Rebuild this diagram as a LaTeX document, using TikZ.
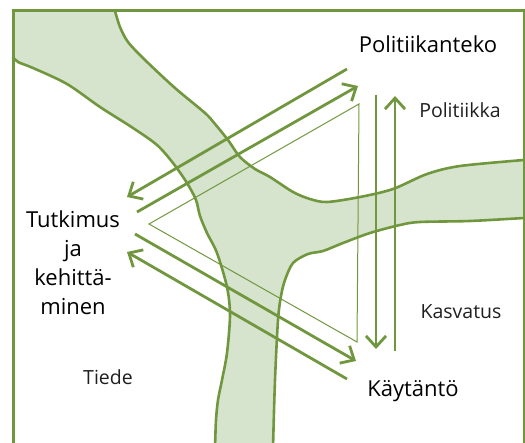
\documentclass[tikz,border=0pt]{standalone}
\usepackage{fontspec}
\setmainfont{Open Sans}
\usetikzlibrary{arrows.meta}
\definecolor{lgreen}{RGB}{112,151,62}
\definecolor{rfill}{RGB}{214,227,205}
\begin{document}
\begin{tikzpicture}[x=1pt,y=-1pt,
  bank/.style={draw=lgreen, line width=2.6pt, line cap=round, line join=round},
  frame/.style={draw=lgreen, line width=3pt},
  flow/.style={draw=lgreen, line width=2.8pt, -{Straight Barb[length=11pt,width=20pt]}},
  tri/.style={draw=lgreen, line width=1pt, line join=miter},
  bigtxt/.style={font=\fontsize{22}{29.3}\selectfont, text=black, inner sep=0pt},
  smalltxt/.style={font=\fontsize{19.5}{24}\selectfont, text=black!88, inner sep=0pt}
]
\useasboundingbox (0,0) rectangle (525,443);

% river fill
\fill[rfill] (13,11) -- (115,11)
  -- plot[smooth,tension=0.5] coordinates {(115,11) (120,27) (128,42) (145,60) (175,88) (205,113) (215,124) (228,140) (240,157) (255,169) (270,177) (293,192) (310,199) (327,202) (360,197) (393,189) (427,174) (460,166) (524,160)}
  -- (524,218)
  -- plot[smooth,tension=0.5] coordinates {(524,218) (470,221) (420,222) (400,225) (370,233) (343,243) (323,251) (308,254) (293,263) (285,280) (281,296) (278,320) (275,380) (273,448)}
  -- (215,448)
  -- plot[smooth,tension=0.5] coordinates {(215,448) (216,420) (218,400) (222,380) (227,353) (230,315) (227,287) (217,253) (207,233) (200,216) (196,200) (187,183) (173,163) (157,145) (133,128) (100,107) (67,84) (33,68) (18,62) (13,57)}
  -- cycle;

% river banks
\draw[bank] plot[smooth,tension=0.5] coordinates {(115,11) (120,27) (128,42) (145,60) (175,88) (205,113) (215,124) (228,140) (240,157) (255,169) (270,177) (293,192) (310,199) (327,202) (360,197) (393,189) (427,174) (460,166) (524,160)};
\draw[bank] plot[smooth,tension=0.5] coordinates {(524,218) (470,221) (420,222) (400,225) (370,233) (343,243) (323,251) (308,254) (293,263) (285,280) (281,296) (278,320) (275,380) (273,448)};
\draw[bank] plot[smooth,tension=0.5] coordinates {(215,448) (216,420) (218,400) (222,380) (227,353) (230,315) (227,287) (217,253) (207,233) (200,216) (196,200) (187,183) (173,163) (157,145) (133,128) (100,107) (67,84) (33,68) (18,62) (13,57)};

% frame
\draw[frame] (13,450) -- (13,11) -- (524,11) -- (524,450);

% texts
\node[bigtxt, anchor=base] (pt) at (428,53) {Politiikanteko};
\node[smalltxt, anchor=base] (pol) at (460,118) {Politiikka};
\node[smalltxt, anchor=base] (kas) at (461,319) {Kasvatus};
\node[bigtxt, anchor=base] (kay) at (413,397) {Käytäntö};
\node[smalltxt, anchor=base] (tie) at (108,385) {Tiede};
\node[bigtxt, anchor=base, align=center] (tk) at (73,315) {Tutkimus\\ja\\kehittä-\\minen};

% triangle
\coordinate (t1) at (359,104);
\coordinate (t2) at (149,224);
\coordinate (t3) at (357,342);
\draw[tri] (t1) -- (t2) -- (t3) -- cycle;

% arrow end points
\coordinate (a1s) at (347,69);  \coordinate (a1e) at (127,197);
\coordinate (a2s) at (137,212); \coordinate (a2e) at (358,86);
\coordinate (a3s) at (347,379); \coordinate (a3e) at (127,252);
\coordinate (a4s) at (135,234); \coordinate (a4e) at (356,361);
\coordinate (a5s) at (376,95);  \coordinate (a5e) at (376,349);
\coordinate (a6s) at (395,351); \coordinate (a6e) at (395,96);

\draw[flow] (a1s) -- (a1e);
\draw[flow] (a2s) -- (a2e);
\draw[flow] (a3s) -- (a3e);
\draw[flow] (a4s) -- (a4e);
\draw[flow] (a5s) -- (a5e);
\draw[flow] (a6s) -- (a6e);
\end{tikzpicture}
\end{document}
